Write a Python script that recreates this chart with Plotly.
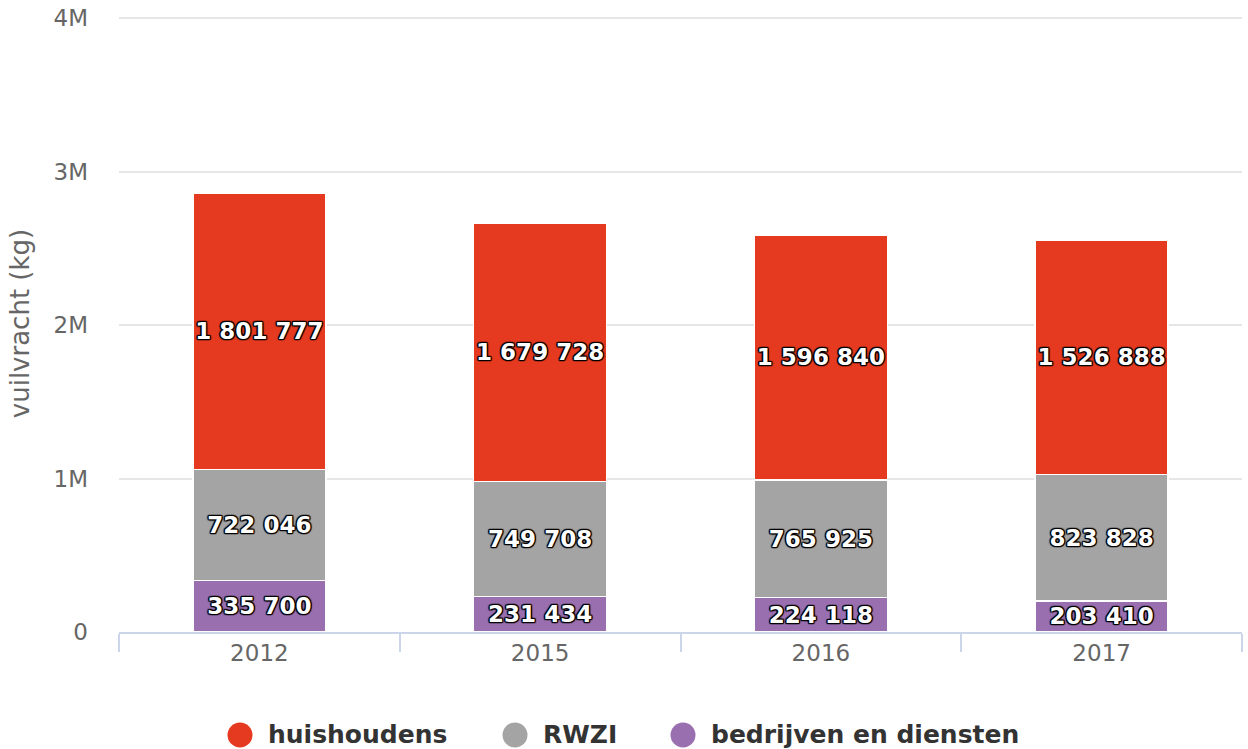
import plotly.graph_objects as go

years = ["2012", "2015", "2016", "2017"]
huishoudens = [1801777, 1679728, 1596840, 1526888]
rwzi = [722046, 749708, 765925, 823828]
bedrijven = [335700, 231434, 224118, 203410]

series = [
    ("bedrijven en diensten", bedrijven, "#9a6fb0"),
    ("RWZI", rwzi, "#a5a4a4"),
    ("huishoudens", huishoudens, "#e53a1f"),
]

FONT = "DejaVu Sans"
shadow = ("1px 1px 1px #000, -1px -1px 1px #000, 1px -1px 1px #000, -1px 1px 1px #000, "
          "0 1px 1px #000, 0 -1px 1px #000, 1px 0 1px #000, -1px 0 1px #000")

def fmt(v):
    return f"{v:,}".replace(",", " ")

W, H = 1248, 749
ML, MR, MT, MB = 119, 6, 15, 117
PW, PH = W - ML - MR, H - MT - MB
YMAX = 4000000 * PH / (PH - 3)  # keeps the 4M gridline just inside the plot area

fig = go.Figure()
for name, vals, color in series:
    fig.add_trace(go.Bar(
        x=years, y=vals, name=name,
        marker=dict(color=color, line=dict(color="#ffffff", width=1.5)),
        text=[fmt(v) for v in vals],
        textposition="inside", insidetextanchor="middle", textangle=0,
        constraintext="none",
        textfont=dict(family=FONT, size=23, color="#ffffff", weight="bold", shadow=shadow),
        showlegend=False, hoverinfo="skip",
    ))

# Custom legend (large circle symbols); positions in pixels
legend_items = [(name, color) for name, _, color in reversed(series)]
legend_circle_px = [240, 515, 683]
legend_y_px = 735
ly = (H - MB - legend_y_px) / PH
shapes = []
annotations = []
for (name, color), cx in zip(legend_items, legend_circle_px):
    xp = (cx - ML) / PW
    shapes.append(dict(
        type="circle", xref="paper", yref="paper", xsizemode="pixel", ysizemode="pixel",
        xanchor=xp, yanchor=ly, x0=-12.5, x1=12.5, y0=-12.5, y1=12.5,
        fillcolor=color, line=dict(width=0),
    ))
    annotations.append(dict(
        text=name, xref="paper", yref="paper", x=(cx + 26 - ML) / PW, y=ly,
        xanchor="left", yanchor="middle", showarrow=False,
        font=dict(family=FONT, size=25, color="#333333", weight="bold"),
    ))

fig.update_layout(
    barmode="stack",
    bargap=0.526,
    width=W, height=H,
    margin=dict(l=ML, r=MR, t=MT, b=MB),
    plot_bgcolor="#ffffff", paper_bgcolor="#ffffff",
    font=dict(family=FONT, color="#666666"),
    showlegend=False,
    hovermode=False,
    shapes=shapes,
    annotations=annotations,
    xaxis=dict(
        type="category", tickson="boundaries", ticks="outside", ticklen=18,
        tickcolor="#ccd6eb", tickwidth=1.5, showline=True, linecolor="#ccd6eb", linewidth=1.5,
        tickfont=dict(family=FONT, size=23, color="#666666"), showgrid=False,
        automargin=False,
    ),
    yaxis=dict(
        range=[0, YMAX], tickvals=[0, 1000000, 2000000, 3000000, 4000000],
        ticktext=["0", "1M", "2M", "3M", "4M"],
        showgrid=True, gridcolor="#e6e6e6", gridwidth=1.5, zeroline=False, showline=False,
        tickfont=dict(family=FONT, size=23, color="#666666"), ticklabelstandoff=30,
        ticklabeloverflow="allow",
        title=dict(text="vuilvracht (kg)", font=dict(family=FONT, size=26, color="#666666"), standoff=16),
        automargin=False,
    ),
)

fig.write_html("out.html", config={"displayModeBar": False},
               post_script="document.body.style.margin='0';")
